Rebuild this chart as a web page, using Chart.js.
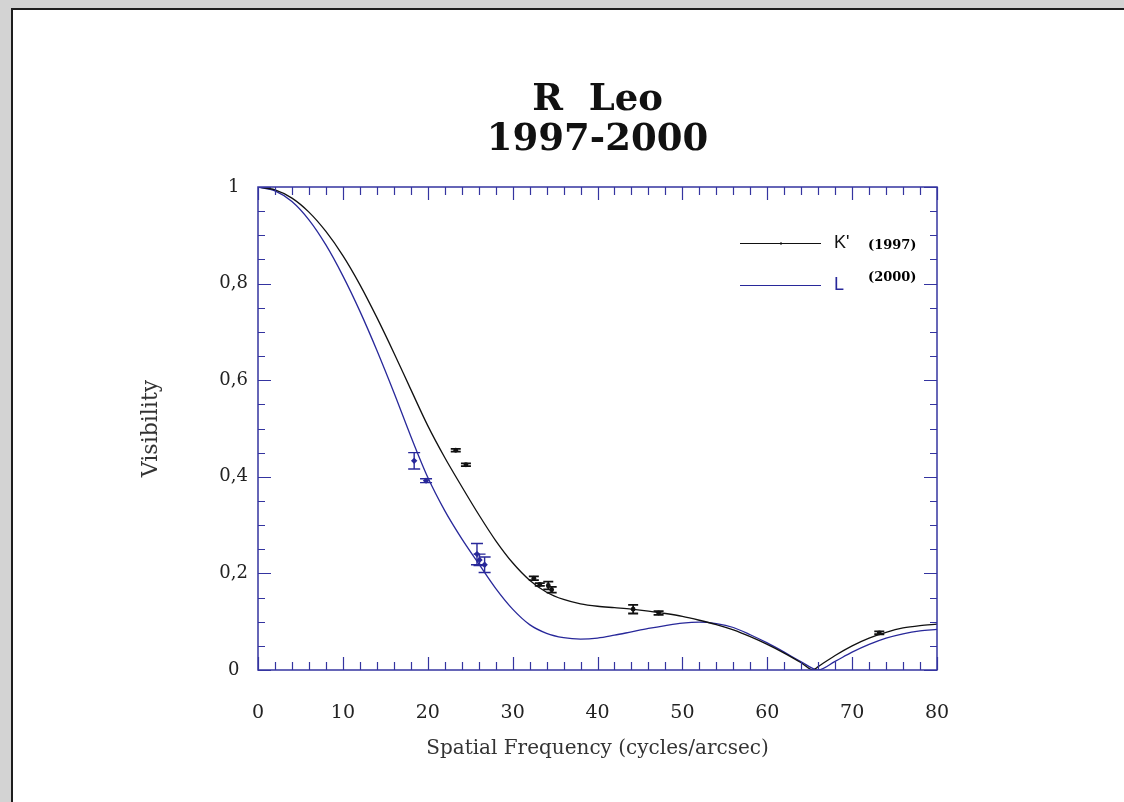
<!DOCTYPE html>
<html>
<head>
<meta charset="utf-8">
<title>R Leo 1997-2000</title>
<script src="https://cdn.jsdelivr.net/npm/chart.js@4/dist/chart.umd.min.js"></script>
<style>
  html, body { margin: 0; padding: 0; width: 1124px; height: 802px; overflow: hidden; background: #d3d3d3; }
  #sheet { position: absolute; left: 11px; top: 8px; right: 0; bottom: 0; background: #fff;
           border-left: 2px solid #1e1e1e; border-top: 2px solid #1e1e1e; }
  #wrap { position: absolute; left: 0; top: 0; width: 1124px; height: 802px; }
</style>
</head>
<body>
<div id="sheet"></div>
<div id="wrap"><canvas id="chart" width="1124" height="802"></canvas></div>
<script>
// Model visibility curve, K' band (1997)
const freqK = [0, 2, 4, 6, 8, 10, 12, 14, 16, 18, 20, 22, 24, 26, 28, 30, 32, 34, 36, 38, 40,
               42, 44, 46, 48, 50, 52, 54, 56, 58, 60, 62, 64, 65.4, 66, 68, 70, 72, 74, 76, 78, 80];
const visK  = [1.000, 0.994, 0.977, 0.948, 0.908, 0.858, 0.798, 0.730, 0.657, 0.581, 0.506,
               0.440, 0.380, 0.322, 0.268, 0.222, 0.186, 0.161, 0.146, 0.137, 0.132,
               0.129, 0.126, 0.122, 0.117, 0.111, 0.103, 0.094, 0.083, 0.069, 0.053,
               0.035, 0.015, 0.000, 0.007, 0.030, 0.050, 0.066, 0.078, 0.087, 0.092, 0.095];

// Model visibility curve, L band (2000)
const freqL = [0, 2, 4, 6, 8, 10, 12, 14, 16, 18, 20, 22, 24, 26, 28, 30, 32, 34, 36, 38, 40,
               42, 44, 46, 48, 50, 52, 54, 56, 58, 60, 62, 64, 66, 68, 70, 72, 74, 76, 78, 80];
const visL  = [1.000, 0.992, 0.970, 0.932, 0.880, 0.816, 0.743, 0.662, 0.575, 0.484, 0.399,
               0.330, 0.272, 0.220, 0.169, 0.126, 0.094, 0.076, 0.067, 0.064, 0.066,
               0.072, 0.079, 0.086, 0.092, 0.097, 0.099, 0.096, 0.088, 0.073, 0.056,
               0.037, 0.017, 0.000, 0.018, 0.037, 0.053, 0.066, 0.075, 0.081, 0.084];

// Measured visibilities with errors, K'
const obsFreqK = [23.3, 24.5, 32.5, 33.2, 34.2, 34.6, 44.2, 47.2, 73.2];
const obsVisK  = [0.455, 0.425, 0.190, 0.177, 0.175, 0.166, 0.126, 0.118, 0.077];
const obsErrK  = [0.003, 0.003, 0.004, 0.003, 0.008, 0.006, 0.009, 0.004, 0.003];

// Measured visibilities with errors, L
const obsFreqL = [18.4, 19.8, 25.8, 26.1, 26.7];
const obsVisL  = [0.433, 0.392, 0.240, 0.228, 0.218];
const obsErrL  = [0.017, 0.004, 0.022, 0.012, 0.016];

// Axis tick labels
const xTickLabels = ['0', '10', '20', '30', '40', '50', '60', '70', '80'];
const yTickLabels = ['0', '0,2', '0,4', '0,6', '0,8', '1'];

// Legend texts
const bandNames = ["K'", 'L'];
const bandYears = ['(1997)', '(2000)'];

const BLACK = '#111111';
const BLUE = '#28289a';
const AXIS_BLUE = '#3434a0';

const pts = (xs, ys) => xs.map((x, i) => ({ x: x, y: ys[i] }));

const errorSets = [
  { index: 2, errs: obsErrK, color: BLACK, cap: 5, width: 1.8 },
  { index: 3, errs: obsErrL, color: BLUE, cap: 6, width: 1.4 }
];

// Vertical error bars with caps, placed through the chart scales
const errorBarPlugin = {
  id: 'errorBars',
  afterDatasetsDraw(chart) {
    const { ctx, scales: { x, y } } = chart;
    errorSets.forEach(set => {
      const data = chart.data.datasets[set.index].data;
      ctx.save();
      ctx.strokeStyle = set.color;
      ctx.lineWidth = set.width;
      set.errs.forEach((e, i) => {
        const px = x.getPixelForValue(data[i].x);
        const top = y.getPixelForValue(data[i].y + e);
        const bot = y.getPixelForValue(data[i].y - e);
        ctx.beginPath();
        ctx.moveTo(px, top); ctx.lineTo(px, bot);
        ctx.moveTo(px - set.cap, top); ctx.lineTo(px + set.cap, top);
        ctx.moveTo(px - set.cap, bot); ctx.lineTo(px + set.cap, bot);
        ctx.stroke();
      });
      ctx.restore();
    });
  }
};

// Box around the plot with inward ticks on all four sides
const framePlugin = {
  id: 'frameTicks',
  afterDatasetsDraw(chart) {
    const { ctx, chartArea: a, scales: { x, y } } = chart;
    ctx.save();
    ctx.strokeStyle = AXIS_BLUE;
    ctx.lineWidth = 1.5;
    ctx.strokeRect(a.left, a.top, a.right - a.left, a.bottom - a.top);
    ctx.lineWidth = 1.2;
    ctx.beginPath();
    for (let k = 0; k <= 40; k++) {
      const v = k * 2;
      const len = (k % 5 === 0) ? 13 : 8;
      const px = Math.round(x.getPixelForValue(v)) + 0.5;
      ctx.moveTo(px, a.bottom); ctx.lineTo(px, a.bottom - len);
      ctx.moveTo(px, a.top); ctx.lineTo(px, a.top + len);
    }
    for (let k = 0; k <= 20; k++) {
      const v = k * 0.05;
      const len = (k % 4 === 0) ? 13 : 7;
      const py = Math.round(y.getPixelForValue(v)) + 0.5;
      ctx.moveTo(a.left, py); ctx.lineTo(a.left + len, py);
      ctx.moveTo(a.right, py); ctx.lineTo(a.right - len, py);
    }
    ctx.stroke();
    ctx.restore();
  }
};

// Legend block in the upper right of the plot
const legendPlugin = {
  id: 'bandLegend',
  afterDraw(chart) {
    const { ctx } = chart;
    const rows = [
      { ds: 0, y: 243, yearY: 246 },
      { ds: 1, y: 285, yearY: 278 }
    ];
    ctx.save();
    rows.forEach((r, i) => {
      const color = chart.data.datasets[r.ds].borderColor;
      ctx.strokeStyle = color;
      ctx.lineWidth = 1.2;
      ctx.beginPath();
      ctx.moveTo(740, r.y + 0.5); ctx.lineTo(821, r.y + 0.5);
      ctx.stroke();
      if (i === 0) {
        ctx.fillStyle = color;
        ctx.fillRect(780, r.y - 0.5, 2, 2);
      }
      ctx.fillStyle = color;
      ctx.font = '18px "Liberation Sans", Arial, sans-serif';
      ctx.textBaseline = 'middle';
      ctx.textAlign = 'left';
      ctx.fillText(bandNames[i], 834, r.y);
      ctx.fillStyle = '#000';
      ctx.font = 'bold 13px "DejaVu Serif", serif';
      ctx.fillText(bandYears[i], 868, r.yearY);
    });
    ctx.restore();
  }
};

new Chart(document.getElementById('chart'), {
  type: 'scatter',
  data: {
    datasets: [
      { label: "K'", data: pts(freqK, visK), showLine: true, borderColor: BLACK, borderWidth: 1.3,
        pointRadius: 0, cubicInterpolationMode: 'monotone', order: 2 },
      { label: 'L', data: pts(freqL, visL), showLine: true, borderColor: BLUE, borderWidth: 1.3,
        pointRadius: 0, cubicInterpolationMode: 'monotone', order: 2 },
      { label: "K' data", data: pts(obsFreqK, obsVisK), pointRadius: 2.4, pointStyle: 'circle',
        backgroundColor: BLACK, borderColor: BLACK, borderWidth: 0, order: 1 },
      { label: 'L data', data: pts(obsFreqL, obsVisL), pointRadius: 3.2, pointStyle: 'rectRot',
        backgroundColor: BLUE, borderColor: BLUE, borderWidth: 0, order: 1 }
    ]
  },
  options: {
    responsive: false,
    animation: false,
    devicePixelRatio: 1,
    layout: { padding: { left: 130, right: 187, top: 0, bottom: 30 } },
    plugins: {
      legend: { display: false },
      tooltip: { enabled: false },
      title: {
        display: true,
        fullSize: false,
        text: ['R  Leo', '1997-2000'],
        color: '#111',
        font: { family: '"DejaVu Serif", serif', size: 37, weight: 'bold', lineHeight: 40 / 37 },
        padding: { top: 80, bottom: 27 }
      }
    },
    scales: {
      x: {
        type: 'linear', min: 0, max: 80,
        border: { display: false },
        grid: { display: false, drawTicks: false },
        ticks: {
          stepSize: 10, padding: 32, color: '#222',
          font: { family: '"DejaVu Serif", serif', size: 19 },
          callback: (v) => xTickLabels[Math.round(v / 10)]
        },
        title: {
          display: true, text: 'Spatial Frequency (cycles/arcsec)', color: '#333',
          font: { family: '"DejaVu Serif", serif', size: 20 },
          padding: { top: 0, bottom: 11 }
        },
        afterFit: (s) => { s.height = 102; }
      },
      y: {
        type: 'linear', min: 0, max: 1,
        border: { display: false },
        grid: { display: false, drawTicks: false },
        ticks: {
          stepSize: 0.2, padding: 10, color: '#222', crossAlign: 'center',
          font: { family: '"DejaVu Serif", serif', size: 18 },
          callback: (v) => yTickLabels[Math.round(v / 0.2)]
        },
        title: {
          display: true, text: 'Visibility', color: '#333',
          font: { family: '"DejaVu Serif", serif', size: 22 },
          padding: { top: 8, bottom: 0 }
        },
        afterFit: (s) => { s.width = 128; }
      }
    }
  },
  plugins: [errorBarPlugin, framePlugin, legendPlugin]
});
</script>
</body>
</html>
